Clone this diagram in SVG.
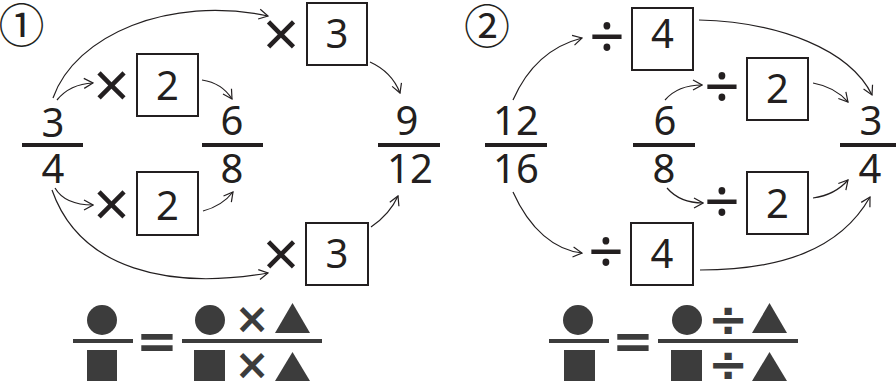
<svg xmlns="http://www.w3.org/2000/svg" width="896" height="385" viewBox="0 0 896 385">
<style>
.num{font-family:"Noto Sans","DejaVu Sans",sans-serif;font-size:40px;fill:#231f20;text-anchor:middle}
.mul{font-family:"Noto Sans",sans-serif;font-size:64px;fill:#231f20;text-anchor:middle}
.div{font-family:"Noto Sans",sans-serif;font-size:62px;fill:#231f20;text-anchor:middle}
.bar{stroke:#231f20;stroke-width:4}
.box{fill:#fff;stroke:#231f20;stroke-width:2}
.arr{fill:none;stroke:#231f20;stroke-width:1.2;marker-end:url(#ah)}
.sh{fill:#3c3c3c}
.fbar{stroke:#3c3c3c;stroke-width:4}
.sym{font-family:"DejaVu Sans",sans-serif;font-weight:bold;fill:#3c3c3c;text-anchor:middle}
.circ{font-family:"Noto Sans CJK JP","DejaVu Sans",sans-serif;font-size:46px;fill:#231f20;text-anchor:middle}
</style>
<defs>
<marker id="ah" markerUnits="userSpaceOnUse" viewBox="-11 -6 12 12" refX="0" refY="0" markerWidth="12" markerHeight="12" orient="auto">
<path d="M-9,-5 L0,0 L-9,5" fill="none" stroke="#231f20" stroke-width="1.2"/>
</marker>
</defs>

<g id="label1"><text class="circ" x="21.5" y="42">①</text></g>
<g id="label2"><text class="circ" x="487" y="43">②</text></g>

<!-- panel 1 fractions -->
<g id="frac-3-4"><text class="num" x="53" y="137">3</text><line class="bar" x1="22" y1="145" x2="83" y2="145"/><text class="num" x="53" y="183">4</text></g>
<g id="frac-6-8"><text class="num" x="232" y="135">6</text><line class="bar" x1="202" y1="145" x2="263" y2="145"/><text class="num" x="232" y="183">8</text></g>
<g id="frac-9-12"><text class="num" x="407" y="135">9</text><line class="bar" x1="378" y1="145" x2="440" y2="145"/><text class="num" x="410" y="183">12</text></g>

<!-- panel 1 operators -->
<g id="op-x2-top"><text class="mul" x="111.5" y="108">×</text><rect class="box" x="137" y="54" width="61" height="62"/><text class="num" x="167.5" y="100">2</text></g>
<g id="op-x3-top"><text class="mul" x="281" y="57">×</text><rect class="box" x="307" y="3" width="60" height="62"/><text class="num" x="337" y="48">3</text></g>
<g id="op-x2-bot"><text class="mul" x="111.5" y="227">×</text><rect class="box" x="137" y="172" width="61" height="63"/><text class="num" x="167.5" y="220">2</text></g>
<g id="op-x3-bot"><text class="mul" x="281" y="277">×</text><rect class="box" x="306" y="223" width="62" height="62"/><text class="num" x="337" y="268">3</text></g>

<!-- panel 2 fractions -->
<g id="frac-12-16"><text class="num" x="516" y="135">12</text><line class="bar" x1="485" y1="145" x2="547" y2="145"/><text class="num" x="516" y="183">16</text></g>
<g id="frac-6-8b"><text class="num" x="665" y="135">6</text><line class="bar" x1="633" y1="145" x2="695" y2="145"/><text class="num" x="664" y="183">8</text></g>
<g id="frac-3-4b"><text class="num" x="871" y="135">3</text><line class="bar" x1="840" y1="145" x2="901" y2="145"/><text class="num" x="870" y="183">4</text></g>

<!-- panel 2 operators -->
<g id="op-d4-top"><text class="div" x="607" y="59">÷</text><rect class="box" x="632" y="8" width="61" height="62"/><text class="num" x="662.5" y="48">4</text></g>
<g id="op-d2-top"><text class="div" x="722" y="109">÷</text><rect class="box" x="747" y="58" width="61" height="62"/><text class="num" x="777.5" y="103">2</text></g>
<g id="op-d2-bot"><text class="div" x="722" y="224">÷</text><rect class="box" x="747" y="172" width="61" height="62"/><text class="num" x="777.5" y="218">2</text></g>
<g id="op-d4-bot"><text class="div" x="606" y="274">÷</text><rect class="box" x="631" y="223" width="62" height="62"/><text class="num" x="662" y="268">4</text></g>

<g id="connectors">
<path class="arr" d="M53,98 C75,35 170,-5 268,16"/>
<path class="arr" d="M57,100 Q70,84 93,83"/>
<path class="arr" d="M202,80 Q222,83 232,99"/>
<path class="arr" d="M370,62 Q392,72 400,93"/>
<path class="arr" d="M55,188 Q65,205 93,205"/>
<path class="arr" d="M52,190 C80,270 170,290 268,273"/>
<path class="arr" d="M203,211 Q222,206 233,192"/>
<path class="arr" d="M371,227 Q390,214 398,196"/>

<path class="arr" d="M513,100 Q535,50 582,38"/>
<path class="arr" d="M699,20 C780,22 850,50 872,95"/>
<path class="arr" d="M665,100 Q678,85 702,85"/>
<path class="arr" d="M813,83 Q835,87 848,102"/>
<path class="arr" d="M513,192 C530,230 555,250 582,253"/>
<path class="arr" d="M667,188 Q680,203 703,203"/>
<path class="arr" d="M813,198 Q835,195 848,180"/>
<path class="arr" d="M700,270 C780,270 840,250 870,197"/>
</g>

<!-- formula 1 -->
<g id="formula-mul">
<circle class="sh" cx="102" cy="320" r="15"/>
<line class="fbar" x1="73" y1="341" x2="133" y2="341"/>
<rect class="sh" x="87" y="350" width="30" height="31"/>
<text class="sym" x="157" y="358" font-size="50">=</text>
<line class="fbar" x1="182" y1="341" x2="322" y2="341"/>
<circle class="sh" cx="210" cy="320" r="15"/>
<text class="sym" x="252" y="333" font-size="42">×</text>
<polygon class="sh" points="292.5,303 310,333 275,333"/>
<rect class="sh" x="194" y="350" width="31" height="31"/>
<text class="sym" x="252" y="379" font-size="42">×</text>
<polygon class="sh" points="292.5,352 310,381 275,381"/>
</g>

<!-- formula 2 -->
<g id="formula-div">
<circle class="sh" cx="578" cy="320" r="15"/>
<line class="fbar" x1="549" y1="341" x2="609" y2="341"/>
<rect class="sh" x="564" y="350" width="31" height="31"/>
<text class="sym" x="633" y="358" font-size="50">=</text>
<line class="fbar" x1="658" y1="341" x2="798" y2="341"/>
<circle class="sh" cx="687" cy="320" r="15"/>
<text class="sym" x="728" y="336" font-size="48">÷</text>
<polygon class="sh" points="769.5,303 787,333 752,333"/>
<rect class="sh" x="671" y="350" width="31" height="31"/>
<text class="sym" x="728" y="381" font-size="48">÷</text>
<polygon class="sh" points="769.5,352 787,381 752,381"/>
</g>
</svg>
